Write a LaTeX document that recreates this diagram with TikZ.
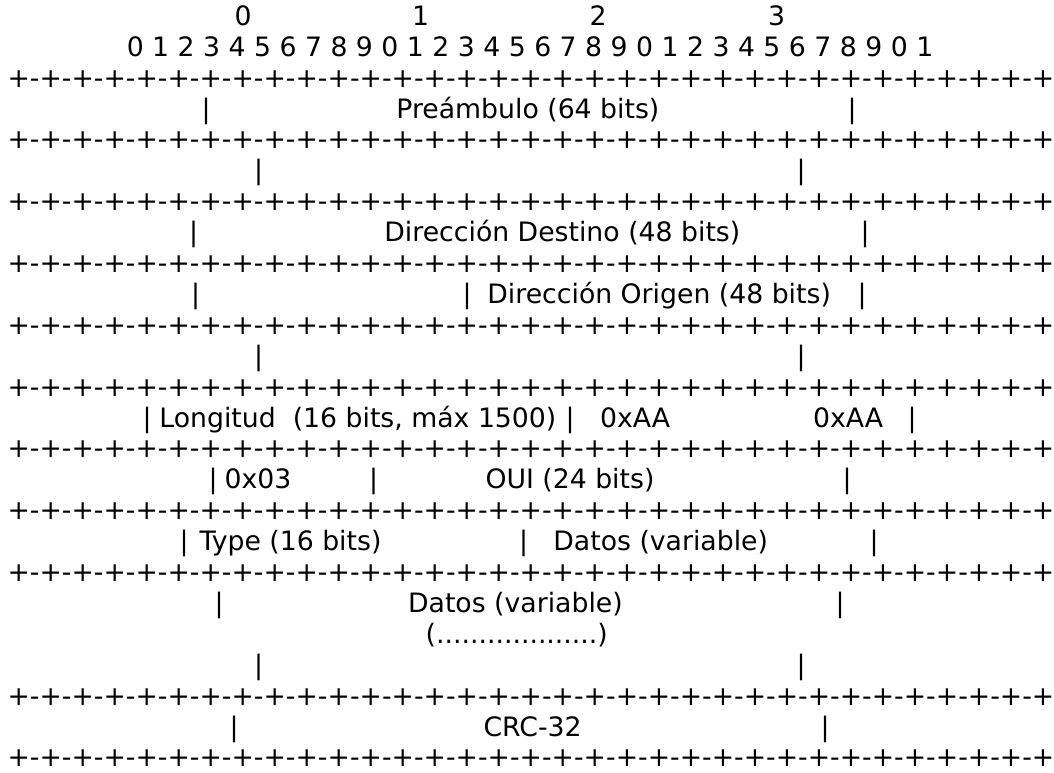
\documentclass[tikz,border=0pt]{standalone}
\usepackage{fontspec}
\setmainfont{DejaVu Sans}
\newcommand{\ruleline}{+-+-+-+-+-+-+-+-+-+-+-+-+-+-+-+-+-+-+-+-+-+-+-+-+-+-+-+-+-+-+-+-+}
\newcommand{\ry}[1]{25.3+30.9*#1}
\begin{document}
\begin{tikzpicture}[x=1pt,y=-1pt,
  every node/.style={inner sep=0pt,outer sep=0pt,font=\fontsize{26.7pt}{30.9pt}\selectfont},
  txt/.style={anchor=base west},
  bar/.style={anchor=base}]
\useasboundingbox (0,0) rectangle (1054,773);

% bit numbering
\node[bar] (ten0) at (243,{\ry{0}}) {0};
\node[bar] (ten1) at (420.5,{\ry{0}}) {1};
\node[bar] (ten2) at (598,{\ry{0}}) {2};
\node[bar] (ten3) at (776.5,{\ry{0}}) {3};
\node[txt] (bits) at (126.8,{\ry{1}}) {0 1 2 3 4 5 6 7 8 9 0 1 2 3 4 5 6 7 8 9 0 1 2 3 4 5 6 7 8 9 0 1};

% separator lines
\foreach \r in {2,4,6,8,10,12,14,16,18,22,24}
  \node[txt] (rule\r) at (7.5,{\ry{\r}}) {\ruleline};

% preamble
\node[bar] (p1) at (206,{\ry{3}}) {|};
\node[txt] (pre) at (396.4,{\ry{3}}) {Preámbulo (64 bits)};
\node[bar] (p2) at (852,{\ry{3}}) {|};
\node[bar] (p3) at (258.6,{\ry{5}}) {|};
\node[bar] (p4) at (801,{\ry{5}}) {|};

% addresses
\node[bar] (d1) at (193.5,{\ry{7}}) {|};
\node[txt] (dst) at (384.4,{\ry{7}}) {Dirección Destino (48 bits)};
\node[bar] (d2) at (865,{\ry{7}}) {|};
\node[bar] (o1) at (195.5,{\ry{9}}) {|};
\node[bar] (o2) at (467,{\ry{9}}) {|};
\node[txt] (src) at (487.4,{\ry{9}}) {Dirección Origen (48 bits)};
\node[bar] (o3) at (862,{\ry{9}}) {|};
\node[bar] (o4) at (258.6,{\ry{11}}) {|};
\node[bar] (o5) at (801,{\ry{11}}) {|};

% length and LLC
\node[bar] (l1) at (147,{\ry{13}}) {|};
\node[txt] (len) at (159.4,{\ry{13}}) {Longitud\ \ (16 bits, máx 1500)};
\node[bar] (l2) at (570,{\ry{13}}) {|};
\node[txt] (dsap) at (600.2,{\ry{13}}) {0xAA};
\node[txt] (ssap) at (813.2,{\ry{13}}) {0xAA};
\node[bar] (l3) at (912,{\ry{13}}) {|};

% control and OUI
\node[bar] (c1) at (213,{\ry{15}}) {|};
\node[txt] (ctl) at (224.7,{\ry{15}}) {0x03};
\node[bar] (c2) at (373.6,{\ry{15}}) {|};
\node[txt] (oui) at (485.5,{\ry{15}}) {OUI (24 bits)};
\node[bar] (c3) at (847,{\ry{15}}) {|};

% type and data
\node[bar] (t1) at (184,{\ry{17}}) {|};
\node[txt] (typ) at (199.6,{\ry{17}}) {Type (16 bits)};
\node[bar] (t2) at (523.5,{\ry{17}}) {|};
\node[txt] (dat1) at (553.4,{\ry{17}}) {Datos (variable)};
\node[bar] (t3) at (874,{\ry{17}}) {|};

\node[bar] (v1) at (219,{\ry{19}}) {|};
\node[txt] (dat2) at (408.1,{\ry{19}}) {Datos (variable)};
\node[bar] (v2) at (840,{\ry{19}}) {|};
\node[txt] (dots) at (425.7,{\ry{20}}) {(...................)};
\node[bar] (v3) at (258.6,{\ry{21}}) {|};
\node[bar] (v4) at (801,{\ry{21}}) {|};

% frame check sequence
\node[bar] (f1) at (234,{\ry{23}}) {|};
\node[txt] (crc) at (483.5,{\ry{23}}) {CRC-32};
\node[bar] (f2) at (825,{\ry{23}}) {|};
\end{tikzpicture}
\end{document}
